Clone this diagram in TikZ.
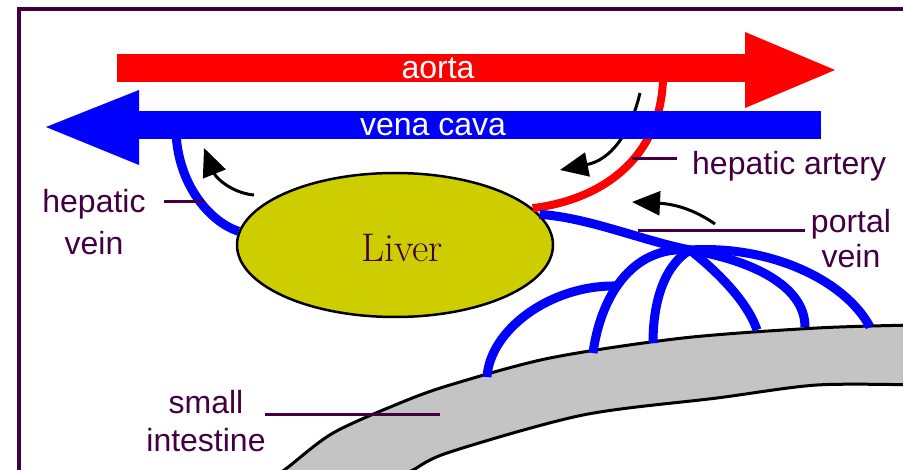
\documentclass[tikz,border=0pt]{standalone}
\usepackage{fontspec}
\newfontfamily\pixfont{Liberation Sans}
\usetikzlibrary{arrows.meta, shapes.geometric}
\definecolor{plum}{RGB}{66,0,66}
\definecolor{livercol}{RGB}{205,205,0}
\definecolor{gutgray}{RGB}{196,196,196}

\begin{document}
\begin{tikzpicture}[x=1pt, y=-1pt,
  lbl/.style={font=\pixfont\fontsize{32}{42}\selectfont, text=plum, inner sep=0pt, align=center, anchor=base},
  barlbl/.style={font=\pixfont\fontsize{32}{42}\selectfont, text=white, inner sep=0pt, anchor=base},
  leader/.style={plum, line width=3pt},
  vein/.style={blue, line width=9pt},
  edge/.style={black, line width=3pt},
  flow/.style={-{Triangle[length=28pt,width=24pt]}, line width=3pt}
]
\useasboundingbox (0,0) rectangle (903,470);
\fill[white] (-10,-10) rectangle (915,480);

\draw[plum, line width=4pt] (19,480) -- (19,9) -- (915,9);

% small intestine
\fill[gutgray] plot[smooth] coordinates {(270,480) (287,468) (333,433) (400,403) (450,385) (550,358) (683,338) (817,328) (915,325)}
  -- (915,385) -- plot[smooth] coordinates {(817,385) (717,398) (583,415) (450,452) (413,470) (395,480)} -- cycle;
\draw[edge] plot[smooth] coordinates {(270,480) (287,468) (333,433) (400,403) (450,385) (550,358) (683,338) (817,328) (915,325)};
\draw[edge] plot[smooth] coordinates {(915,385) (817,385) (717,398) (583,415) (450,452) (413,470) (395,480)};

\node[ellipse, draw=black, line width=2.5pt, fill=livercol, minimum width=316pt, minimum height=144pt, inner sep=0pt] (liver) at (395,245) {};
\node[font=\fontsize{40}{40}\selectfont, text=plum, inner sep=0pt, anchor=base] (livertxt) at (402,262) {Liver};

% aorta
\fill[red] (117,54) rectangle (750,82);
\fill[red] (745,32) -- (835,70) -- (745,108) -- cycle;
\node[barlbl] (aortalbl) at (438,79) {aorta};

\draw[red, line width=8pt] (663,80) .. controls (660,160) and (600,200) .. (liver.15);

\coordinate (a1s) at (254,195);
\coordinate (a1e) at (204,148);
\coordinate (a2s) at (640,93);
\coordinate (a2e) at (560,170);
\coordinate (a3s) at (715,224);
\coordinate (a3e) at (632,202);
\draw[flow] (a1s) .. controls (232,193) and (216,178) .. (a1e);
\draw[flow] (a2s) .. controls (630,135) and (610,160) .. (a2e);
\draw[flow] (a3s) .. controls (695,210) and (675,204) .. (a3e);

% vena cava
\fill[blue] (135,111) rectangle (821,139);
\fill[blue] (139,90) -- (46,127) -- (139,165) -- cycle;
\node[barlbl] (cavalbl) at (433,136) {vena cava};

\draw[vein] (176,132) .. controls (178,185) and (210,222) .. (liver.175);

% portal vein
\coordinate (hub) at (690,250);
\coordinate (fork) at (616,286);
\draw[vein] (liver.12) .. controls (590,218) and (640,240) .. (hub);
\draw[vein] (hub) .. controls (770,245) and (845,280) .. (870,327);
\draw[vein] (hub) .. controls (750,260) and (805,285) .. (805,327);
\draw[vein] (hub) .. controls (705,262) and (745,295) .. (757,330);
\draw[vein] (hub) .. controls (665,265) and (653,300) .. (653,343);
\draw[vein] (hub) .. controls (630,245) and (600,300) .. (593,353);
\draw[vein] (fork) .. controls (550,285) and (490,330) .. (487,377);

% labels
\node[lbl] (hvlbl) at (94,255) {hepatic\\vein};
\node[lbl, anchor=base west] (halbl) at (692,175) {hepatic artery};
\node[lbl] (pvlbl) at (851,268) {portal\\[-7pt]vein};
\node[lbl] (silbl) at (206,452) {small\\[-3pt]intestine};

\coordinate (hvA) at (164,202);
\coordinate (hvB) at (204,202);
\coordinate (haA) at (632,159);
\coordinate (haB) at (677,159);
\coordinate (pvA) at (638,231);
\coordinate (pvB) at (805,231);
\coordinate (siA) at (265,415);
\coordinate (siB) at (440,415);
\draw[leader] (hvA) -- (hvB);
\draw[leader] (haA) -- (haB);
\draw[leader] (pvA) -- (pvB);
\draw[leader] (siA) -- (siB);
\end{tikzpicture}
\end{document}
